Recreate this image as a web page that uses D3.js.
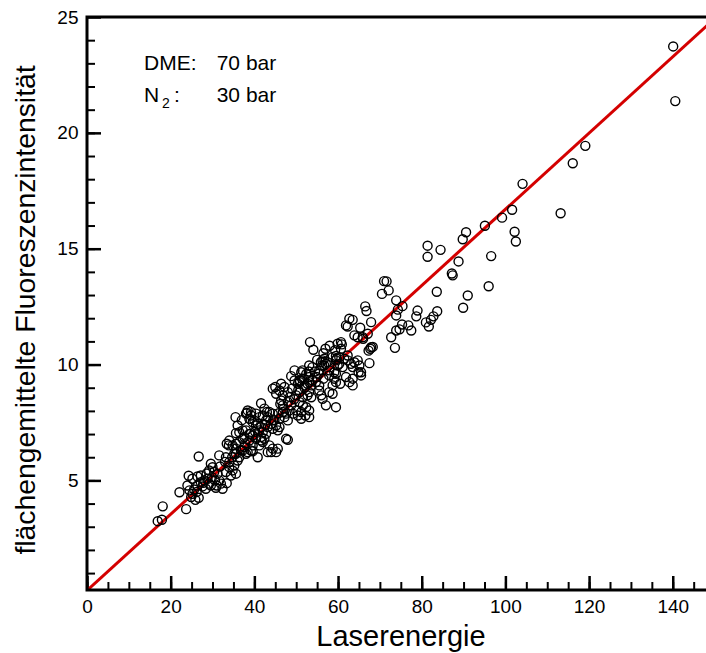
<!DOCTYPE html>
<html>
<head>
<meta charset="utf-8">
<script src="https://cdn.jsdelivr.net/npm/d3@7"></script>
<style>
	body { margin: 0; background: #fff; }
	text { font-family: "Liberation Sans", Arial, sans-serif; fill: #000; }
</style>
</head>
<body>
<div id="chart"></div>
<script>
// measured points: [Laserenergie, Fluoreszenzintensitaet]
var lowPoints = [
	[16.9,3.24],[17.9,3.30],[18.1,3.88],[22.1,4.49],[23.7,3.76],
	[24.0,4.78],[24.5,4.57],[25.6,4.61],[25.2,4.42],[26.2,4.50],[26.7,4.25],[25.9,4.16],[24.9,4.28],
	[24.3,5.20],[25.2,5.07],[26.4,5.17],[27.2,4.92],[26.4,4.78],[27.6,4.74],[28.4,4.64],[29.2,4.86],
	[28.0,5.00],[27.2,5.21],[28.8,5.07],[26.7,6.03],[27.8,4.90],[28.6,5.30],
	[29.6,5.72],[30.0,5.57],[29.2,5.43],[30.4,5.36],[31.2,5.29],[29.9,5.14],[31.6,5.00],[31.0,4.78],
	[32.0,4.86],[30.8,4.68],[32.4,4.64],[29.6,4.78],[31.6,6.08],[33.4,6.58],[33.9,6.51],[33.4,4.88],
	[34.4,5.21],[35.6,5.29],[34.8,5.43],[33.2,5.36],[34.0,5.57],[35.2,5.64],[36.0,5.86],[36.4,6.00],
	[34.7,6.00],[35.6,6.15],[33.2,6.00],[34.0,5.79],[30.6,5.00],[31.8,5.60],[33.0,5.80]
];

var midPoints = [
	[36.4,6.65],[37.2,6.80],[35.6,6.58],[37.6,6.44],[38.0,6.15],[39.2,6.29],[39.6,6.51],[40.8,6.00],
	[40.4,6.80],[38.8,6.72],[36.0,7.37],[35.6,7.04],[36.4,7.08],[38.2,7.92],[39.2,7.80],
	[39.6,7.51],[40.4,7.37],[41.2,7.16],[42.0,7.08],[42.4,6.80],[43.2,7.30],[41.6,6.72],[42.8,7.01],
	[43.2,6.22],[41.6,8.33],[35.5,7.73],[37.0,7.60],[42.4,8.10],[43.0,7.95],
	[37.2,7.16],[38.0,7.16],[38.8,7.01],[37.6,6.87],[39.6,6.94],[41.6,6.87],[42.0,6.65],[41.2,6.51],
	[43.6,6.51],[44.4,6.37],[47.6,6.80],[48.0,6.75],[36.8,6.30],[37.8,6.60],[39.0,7.00],[40.2,7.10],
	[38.4,8.02],[39.2,7.95],[38.0,7.88],[40.4,7.88],[41.2,7.73],[42.0,7.80],[42.8,7.59],[40.0,7.59],
	[38.8,7.66],[40.8,7.44],[41.6,7.30],[42.6,7.40],
	[43.6,7.95],[44.4,7.88],[43.2,7.73],[44.8,7.59],[44.0,7.44],[45.2,7.37],[46.0,7.30],[44.4,7.23],[45.6,7.16],
	[46.4,8.45],[46.8,8.24],[48.0,8.38],[48.8,8.24],[48.4,8.02],[47.6,7.88],[49.2,7.88],[46.8,7.95],
	[47.2,7.73],[48.0,7.59],[46.0,7.66],[44.5,7.60],[45.8,7.90],[47.0,8.10],[46.2,8.30],
	[46.4,9.17],[47.2,9.03],[46.0,8.88],[48.0,8.81],[46.8,8.67],[45.2,8.74],[44.4,8.96],[45.0,9.03],
	[34.0,6.72],[34.8,6.51],[35.6,6.37],[37.2,6.29],[38.4,6.22],[35.2,6.15],[39.6,6.26],
	[44.0,6.22],[45.6,6.37],[45.2,6.22]
];

var upperPoints = [
	[51.2,9.67],[50.9,9.31],[49.6,9.31],[50.4,9.17],[52.0,9.10],[51.4,9.39],[53.1,9.24],[53.6,9.10],
	[53.1,8.81],[52.7,8.67],[53.6,8.59],[51.6,8.59],[50.8,8.81],[50.0,8.67],[49.0,8.96],
	[50.8,8.38],[51.6,8.24],[52.4,8.16],[53.1,8.02],[52.2,7.80],[53.1,7.73],[51.2,7.95],[50.0,8.02],
	[50.4,7.80],[51.2,7.66],[49.6,9.75],[48.8,9.50],[48.5,8.60],[49.5,8.50],[50.5,8.90],[52.0,9.00],
	[55.5,8.88],[56.0,8.67],[56.3,8.52],[57.9,8.81],[58.7,8.74],[57.1,8.24],[59.5,8.16],
	[56.3,10.18],[57.1,10.03],[57.5,10.10],[56.7,9.96],[55.5,9.75],[55.4,9.60],[54.9,9.46],[56.5,9.39],
	[57.9,9.75],[59.1,9.67],[59.9,9.96],[59.7,10.25],[53.0,9.70],[54.5,9.70],[55.0,10.20],
	[51.5,9.75],[52.4,9.60],[53.1,9.46],[51.9,9.39],[53.9,9.31],[50.8,9.24],[54.7,9.24],[55.5,9.10],[52.7,9.17],
	[53.9,9.89],[53.1,9.96],[55.9,10.10],[56.7,10.25],[56.2,9.96],
	[58.7,10.32],[59.5,10.18],[61.5,10.25],[62.3,10.18],[63.1,10.03],[63.9,10.10],[64.7,10.18],[65.1,9.96],
	[63.5,9.89],[65.5,9.67],[60.3,10.03],[61.1,9.89],[64.9,9.67],[65.5,9.53],[59.5,9.60],[59.1,9.39],
	[61.9,9.46],[63.5,9.39],[62.7,9.24],[63.5,9.10],[57.9,9.53],[59.5,9.24],[60.5,9.17],[58.7,9.10],
	[53.3,10.97],[54.1,10.64],[57.0,10.68],[56.5,10.49],[60.7,10.97],[60.9,10.87],[60.7,10.68],[60.3,10.32],
	[58.0,10.81],[59.3,10.62],[59.9,10.90],[59.5,10.37],[62.3,10.39],
	[67.7,10.68],[67.3,10.60],[68.3,10.76],[67.5,10.06]
];

var highPoints = [
	[62.3,11.64],[63.5,11.93],[65.3,11.59],[67.9,11.83],[63.9,11.26],[64.7,11.18],[65.9,11.18],[67.1,11.33],
	[62.7,11.98],[61.9,11.69],[66.0,11.11],[67.9,10.75],[73.9,11.47],
	[66.5,12.51],[66.8,12.31],[71.0,13.60],[71.6,13.59],[70.5,13.05],[72.1,13.20],
	[73.9,12.77],[75.4,12.52],[74.3,12.37],[73.9,12.12],[79.0,12.33],[78.7,12.08],[83.7,12.30],[82.8,12.08],
	[82.2,11.93],[81.0,11.82],[81.7,11.64],[75.3,11.73],[76.8,11.69],[74.7,11.52],[77.5,11.47],
	[72.7,11.18],[73.6,10.72],
	[81.4,15.13],[81.4,14.65],[84.5,14.95],[88.8,14.45],[87.2,13.93],[87.4,13.85],[83.6,13.14],
	[89.8,15.41],[90.6,15.71],[95.1,15.99],[99.2,16.34],[101.6,16.68],[102.2,15.73],[102.5,15.31],
	[96.6,14.68],[96.0,13.38],[91.0,12.98],[89.9,12.45],[104.1,17.80],
	[113.2,16.53],[116.1,18.69],[119.1,19.44],[140.1,23.73],[140.6,21.37]
];

// fitted line y = a + b*x
var fitIntercept = 0.25,
	fitSlope = 0.1645;

var xMajorTicks = [0, 20, 40, 60, 80, 100, 120, 140];
var xMinorTicks = d3.range(0, 149, 5);
var yMajorTicks = [5, 10, 15, 20, 25];
var yMinorTicks = d3.range(1, 25, 1);

var margin = {left: 87, right: -4, top: 17, bottom: 63};
var totalW = 706, totalH = 653;
var width = totalW - margin.left - margin.right,
	height = totalH - margin.top - margin.bottom;

var svg = d3.select("#chart")
	.append("svg")
		.attr("width", totalW)
		.attr("height", totalH);

var canvas = svg.append("g")
	.attr("transform", "translate(" + margin.left + ", " + margin.top + ")");

var x = d3.scaleLinear()
	.domain([0, 148.9])
	.range([0, width]);

var y = d3.scaleLinear()
	.domain([0.27, 25])
	.range([height, 0]);

svg.append("clipPath")
	.attr("id", "plotclip")
	.append("rect")
		.attr("x", 0)
		.attr("y", 0)
		.attr("width", width)
		.attr("height", height);

// axes with inward ticks
var xMinor = d3.axisBottom(x).tickValues(xMinorTicks).tickSize(-8).tickFormat("");
var xMajor = d3.axisBottom(x).tickValues(xMajorTicks).tickSize(-14).tickPadding(9.5)
	.tickFormat(function(d){ return d; });
var yMinor = d3.axisLeft(y).tickValues(yMinorTicks).tickSize(-8).tickFormat("");
var yMajor = d3.axisLeft(y).tickValues(yMajorTicks).tickSize(-14).tickPadding(8.5)
	.tickFormat(function(d){ return d; });

function styleAxis(g, w) {
	g.select(".domain").remove();
	g.selectAll("line").attr("stroke", "#000").attr("stroke-width", w);
	g.selectAll("text").attr("font-size", "19px")
		.attr("font-family", "'Liberation Sans', Arial, sans-serif");
}

canvas.append("g")
	.attr("transform", "translate(0, " + height + ")")
	.call(xMinor)
	.call(styleAxis, 2);

canvas.append("g")
	.attr("transform", "translate(0, " + height + ")")
	.call(xMajor)
	.call(styleAxis, 2.5);

canvas.append("g")
	.call(yMinor)
	.call(styleAxis, 2);

canvas.append("g")
	.call(yMajor)
	.call(styleAxis, 2.5);

var plot = canvas.append("g").attr("clip-path", "url(#plotclip)");

// fit line
var xEnd = x.domain()[1];
plot.append("line")
	.attr("x1", x(0))
	.attr("y1", y(fitIntercept))
	.attr("x2", x(xEnd))
	.attr("y2", y(fitIntercept + fitSlope * xEnd))
	.attr("stroke", "#d40000")
	.attr("stroke-width", 3);

// points
var allPoints = lowPoints.concat(midPoints, upperPoints, highPoints);
plot.selectAll("circle")
	.data(allPoints)
	.enter()
	.append("circle")
		.attr("cx", function(d){ return x(d[0]); })
		.attr("cy", function(d){ return y(d[1]); })
		.attr("r", 4.5)
		.attr("fill", "none")
		.attr("stroke", "#000")
		.attr("stroke-width", 1.4);

// frame
canvas.append("rect")
	.attr("x", 0)
	.attr("y", 0)
	.attr("width", width)
	.attr("height", height)
	.attr("fill", "none")
	.attr("stroke", "#000")
	.attr("stroke-width", 3);

// axis titles
svg.append("text")
	.attr("x", 401)
	.attr("y", 646)
	.attr("font-size", "29px")
	.attr("text-anchor", "middle")
	.text("Laserenergie");

svg.append("text")
	.attr("transform", "translate(35, 310) rotate(-90)")
	.attr("font-size", "28.3px")
	.attr("text-anchor", "middle")
	.text("flächengemittelte Fluoreszenzintensität");

// annotation
svg.append("text")
	.attr("x", 144).attr("y", 70)
	.attr("font-size", "21px")
	.text("DME:");
svg.append("text")
	.attr("x", 216.7).attr("y", 70)
	.attr("font-size", "21px")
	.text("70 bar");

var n2 = svg.append("text")
	.attr("x", 144).attr("y", 101.7)
	.attr("font-size", "21px");
n2.append("tspan").text("N");
n2.append("tspan").attr("x", 162).attr("dy", 6).attr("font-size", "14px").text("2");
n2.append("tspan").attr("x", 174).attr("dy", -6).text(":");

svg.append("text")
	.attr("x", 216.7).attr("y", 101.7)
	.attr("font-size", "21px")
	.text("30 bar");
</script>
</body>
</html>
